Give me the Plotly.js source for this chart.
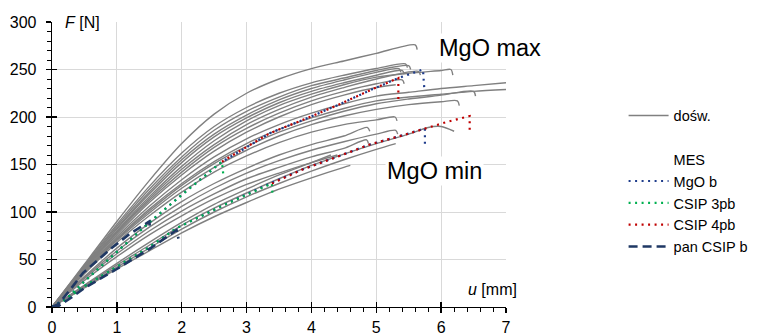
<!DOCTYPE html>
<html><head><meta charset="utf-8">
<script src="https://cdn.plot.ly/plotly-3.0.1.min.js"></script>
<style>html,body{margin:0;padding:0;background:#fff}#g{width:768px;height:334px}</style>
</head><body><div id="g"></div>
<script>
// ---- experimental curves (u [mm], F [N]) ----
const e01u = [0,0.5,1,1.5,2,2.5,3,3.5,4,4.5,5,5.6,5.63];            const e01F = [0,45,90,133,172,203,225,240,251,259,267,276,271];
const e02u = [0,0.5,1,1.5,2,2.5,3,3.5,4,4.5,5,5.45,5.48];           const e02F = [0,44,87,127,162,190,210,225,236,244,251,256,252];
const e03u = [0,0.5,1,1.5,2,2.5,3,3.5,4,4.5,5,5.5,5.53];            const e03F = [0,43,85,124,158,186,206,221,233,241,249,254,250];
const e04u = [0,0.5,1,1.5,2,2.5,3,3.5,4,4.5,5,5.35,5.38];           const e04F = [0,42,83,121,155,182,202,218,230,239,247,251,247];
const e05u = [0,0.5,1,1.5,2,2.5,3,3.5,4,4.5,5,5.4,5.43];            const e05F = [0,42,82,119,152,179,199,215,227,236,244,249,245];
const e06u = [0,0.5,1,1.5,2,2.5,3,3.5,4,4.5,5,5.5,6,6.15,6.18];     const e06F = [0,41,80,116,148,175,196,212,224,234,242,246,249,250,244];
const e07u = [0,0.5,1,1.5,2,2.5,3,3.5,4,4.5,5,5.65,5.68];           const e07F = [0,40,79,114,145,171,192,208,221,231,240,248,244];
const e08u = [0,0.5,1,1.5,2,2.5,3,3.5,4,4.5,5,5.4,5.43];            const e08F = [0,40,78,112,142,168,188,204,217,227,235,239,235];
const e09u = [0,0.5,1,1.5,2,2.5,3,3.5,4,4.5,5,5.3];                 const e09F = [0,39,76,110,139,164,184,200,213,223,231,234];
const e10u = [0,0.5,1,1.5,2,2.5,3,3.5,4,4.5,5,5.5,6,6.5,7];         const e10F = [0,38,74,106,134,158,177,192,204,214,222,226,230,233,236];
const e11u = [0,0.5,1,1.5,2,2.5,3,3.5,4,4.5,5,5.5,6,6.5,7];         const e11F = [0,37,72,103,130,153,172,187,199,209,217,221,224,227,229];
const e12u = [0,0.5,1,1.5,2,2.5,3,3.5,4,4.5,5,5.5,6,6.5,6.53];      const e12F = [0,37,71,101,128,151,169,184,196,206,214,219,223,227,222];
const e13u = [0,0.5,1,1.5,2,2.5,3,3.5,4,4.5,5,5.5,6,6.25,6.28];     const e13F = [0,36,70,99,125,147,165,180,192,201,208,213,216,217,212];
const e14u = [0,0.5,1,1.5,2,2.5,3,3.5,4,4.5,5,5.29,5.32];           const e14F = [0,35,68,96,121,142,159,173,184,192,197,200,196];
const e15u = [0,0.5,1,1.5,2,2.5,3,3.5,4,4.5,4.86,4.9];              const e15F = [0,32,62,88,111,130,146,160,171,180,189,185];
const e16u = [0,0.5,1,1.5,2,2.5,3,3.5,4,4.5,5,5.3,5.33];            const e16F = [0,31,59,84,106,125,141,154,165,174,182,186,182];
const e17u = [0,0.5,1,1.5,2,2.5,3,3.5,4,4.5,4.85,4.88];             const e17F = [0,30,56,80,101,119,135,147,158,167,176,172];
const e18u = [0,0.5,1,1.5,2,2.5,3,3.5,4,4.4];                       const e18F = [0,28,53,76,96,114,129,141,152,160];
const e19u = [0,0.5,1,1.5,2,2.5,3,3.5,4,4.5,5,5.5,5.8,6,6.2];       const e19F = [0,22,44,65,86,104,120,135,149,161,172,182,189,190,185];
const e20u = [0,0.5,1,1.5,2,2.5,3,3.5,4,4.5,5,5.3];                 const e20F = [0,21,42,62,82,100,116,130,143,155,166,172];
const e21u = [0,0.5,1,1.5,2,2.5,3,3.5,4,4.3];                       const e21F = [0,23,46,68,89,108,124,139,152,160];
const e22u = [0,0.5,1,1.5,2,2.5,3,3.5,4,4.5,4.6];                   const e22F = [0,20,40,59,78,95,110,124,136,147,149];

// ---- FEM (MES) curves: upper branch, null, lower branch ----
const mgoU  = [0,0.2,0.5,1,1.5,2,2.62,3,3.36,3.87,4.39,4.9,5.34,5.72,5.74,null,0,0.48,1,1.5,1.92,2.64,3.36,3.87,4.39,4.9,5.42,5.75,5.75];
const mgoF  = [0,7,27,58,89,118,153,168,183,197,212,228,241,250,230,null,0,21,42,63,83,107,130,145,158,171,181,188,170];
const c3U   = [0,0.2,0.5,1,1.5,2,2.62,2.64,null,0,0.2,0.48,1,1.5,1.92,2.64,3.39,3.4];
const c3F   = [0,7,27,58,89,118,153,140,null,0,7,21,42,63,83,107,130,118];
const c4U   = [2.62,3,3.36,3.87,4.39,4.9,5.34,5.34,null,3.39,3.87,4.39,4.9,5.42,5.75,6.1,6.44,6.44];
const c4F   = [153,168,183,197,212,228,241,218,null,130,145,158,171,181,188,195,201,185];
const panU  = [0,0.1,0.3,0.48,0.92,1.2,1.5,1.51,null,0,0.1,0.3,0.5,1,1.5,1.92,1.95];
const panF  = [0,3,20,36,62,77,90,84,null,0,1,10,20,40,61,81,72];

const xTicks = [0,1,2,3,4,5,6,7];
const yTicks = [0,50,100,150,200,250,300];

const FONT = 'Liberation Sans, Arial, sans-serif';
const GRAY = '#808080';
const exp = [[e01u,e01F],[e02u,e02F],[e03u,e03F],[e04u,e04F],[e05u,e05F],[e06u,e06F],[e07u,e07F],[e08u,e08F],[e09u,e09F],[e10u,e10F],[e11u,e11F],[e12u,e12F],[e13u,e13F],[e14u,e14F],[e15u,e15F],[e16u,e16F],[e17u,e17F],[e18u,e18F],[e19u,e19F],[e20u,e20F],[e21u,e21F],[e22u,e22F]];

const traces = [];
exp.forEach((c,i)=>{
  traces.push({x:c[0], y:c[1], type:'scatter', mode:'lines', name:'dośw.', showlegend:i===0,
    line:{color:GRAY, width:1.4, shape:'spline', smoothing:0.8}, hoverinfo:'skip'});
});
traces.push({x:[-10], y:[-10], type:'scatter', mode:'lines', name:' ', line:{color:'rgba(0,0,0,0)'}, hoverinfo:'skip'});
traces.push({x:[-10], y:[-10], type:'scatter', mode:'lines', name:'MES', line:{color:'rgba(0,0,0,0)'}, hoverinfo:'skip'});
traces.push({x:mgoU, y:mgoF, type:'scatter', mode:'lines', name:'MgO b', connectgaps:false,
  line:{color:'#1f3d8c', width:2.2, dash:'2px,4.5px'}, hoverinfo:'skip'});
traces.push({x:c3U, y:c3F, type:'scatter', mode:'lines', name:'CSIP 3pb', connectgaps:false,
  line:{color:'#00b050', width:2.2, dash:'2px,4.5px'}, hoverinfo:'skip'});
traces.push({x:c4U, y:c4F, type:'scatter', mode:'lines', name:'CSIP 4pb', connectgaps:false,
  line:{color:'#c00000', width:2.2, dash:'2px,4.5px'}, hoverinfo:'skip'});
traces.push({x:panU, y:panF, type:'scatter', mode:'lines', name:'pan CSIP b', connectgaps:false,
  line:{color:'#1f3864', width:2.6, dash:'9px,5px'}, hoverinfo:'skip'});
traces.push({x:[-10], y:[-10], xaxis:'x2', yaxis:'y2', type:'scatter', mode:'lines', showlegend:false, hoverinfo:'skip', line:{color:'rgba(0,0,0,0)'}});

const axBase = {showgrid:true, gridcolor:'#d9d9d9', gridwidth:1, zeroline:false, showline:true,
  linecolor:'#000', linewidth:1.3, ticks:'outside', ticklen:5, tickwidth:1.3, tickcolor:'#000',
  tickfont:{family:FONT, size:16, color:'#000'}};

const layout = {
  width:768, height:334, paper_bgcolor:'#fff', plot_bgcolor:'#fff',
  margin:{l:52, r:262, t:22, b:27},
  font:{family:FONT, color:'#000'},
  showlegend:true,
  legend:{x:1.259, xanchor:'left', y:0.728, yanchor:'top', font:{family:FONT, size:14.5, color:'#000'},
    bgcolor:'rgba(0,0,0,0)', borderwidth:0, itemwidth:40, tracegroupgap:0, traceorder:'normal'},
  xaxis:Object.assign({}, axBase, {range:[0,7], tickvals:xTicks, ticktext:xTicks.map(String),
    minor:{dtick:0.2, tick0:0, ticks:'outside', ticklen:3.5, tickwidth:1, tickcolor:'#000', showgrid:false}}),
  yaxis:Object.assign({}, axBase, {range:[0,300], tickvals:yTicks, ticktext:yTicks.map(String), ticklabelstandoff:6,
    minor:{dtick:10, tick0:0, ticks:'outside', ticklen:3.5, tickwidth:1, tickcolor:'#000', showgrid:false}}),
  xaxis2:{overlaying:'x', anchor:'y2', range:[0,7], tickvals:xTicks, ticks:'inside', ticklen:5, tickwidth:1.3, tickcolor:'#000',
    showticklabels:false, showgrid:false, zeroline:false, showline:false},
  yaxis2:{overlaying:'y', anchor:'x2', range:[0,300], tickvals:yTicks, ticks:'inside', ticklen:5, tickwidth:1.3, tickcolor:'#000',
    showticklabels:false, showgrid:false, zeroline:false, showline:false},
  annotations:[
    {xref:'paper', yref:'paper', x:0.024, y:1, xanchor:'left', yanchor:'middle', text:'<i>F</i> [N]', showarrow:false,
      bgcolor:'#fff', font:{family:FONT, size:16, color:'#000'}},
    {xref:'paper', yref:'paper', x:1.028, y:0.06, xanchor:'right', yanchor:'middle', text:'<i>u</i> [mm]', showarrow:false,
      bgcolor:'#fff', font:{family:FONT, size:16, color:'#000'}},
    {xref:'x', yref:'y', x:6.76, y:273, xanchor:'center', yanchor:'middle', text:'MgO max', showarrow:false,
      bgcolor:'#fff', font:{family:FONT, size:23.5, color:'#000'}},
    {xref:'x', yref:'y', x:5.89, y:143, xanchor:'center', yanchor:'middle', text:'MgO min', showarrow:false,
      bgcolor:'#fff', font:{family:FONT, size:23.5, color:'#000'}}
  ]
};

Plotly.newPlot('g', traces, layout, {displayModeBar:false, staticPlot:true});
</script></body></html>
